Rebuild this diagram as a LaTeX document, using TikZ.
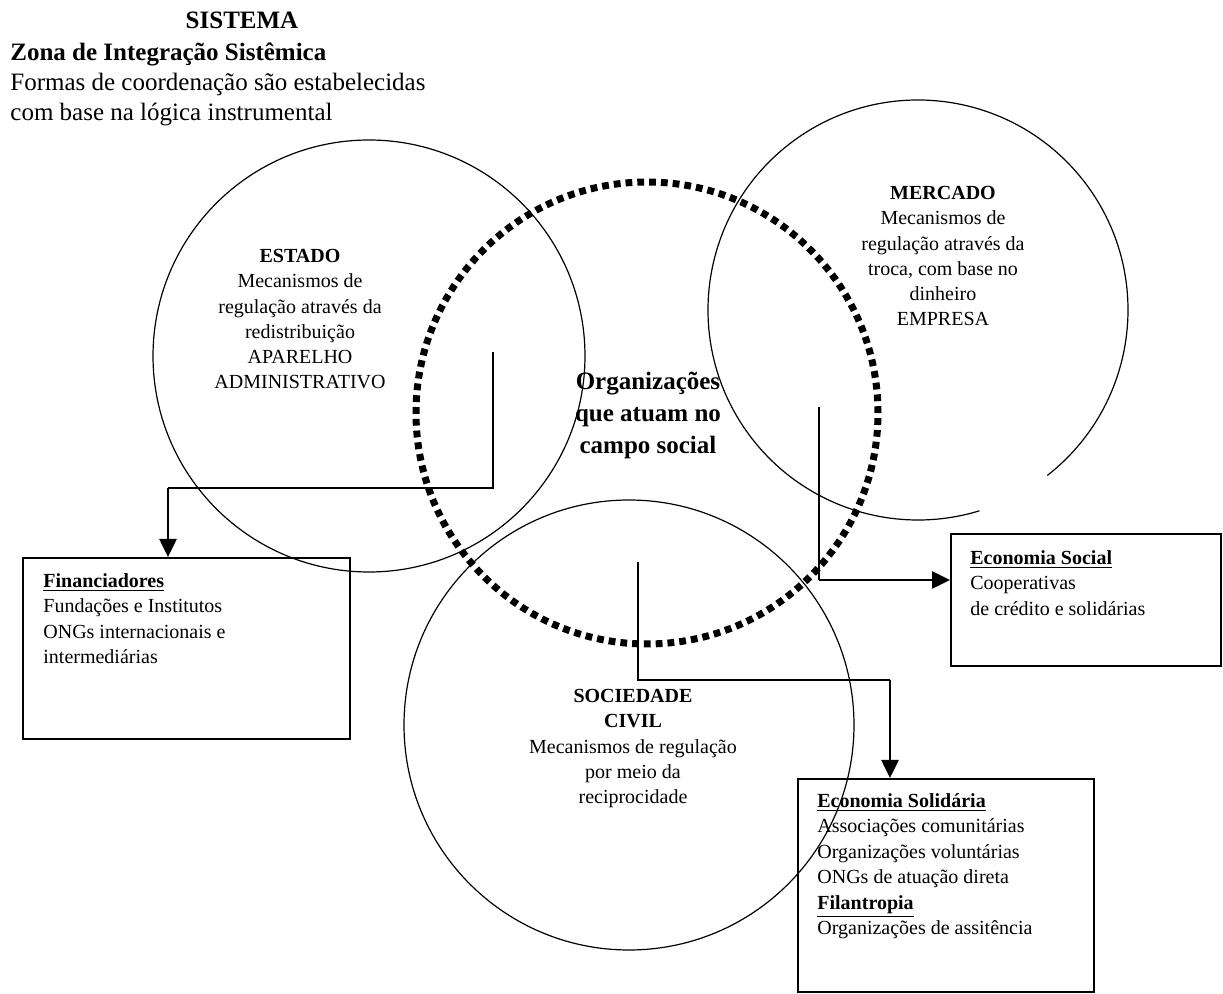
\documentclass[tikz,border=0pt]{standalone}
\usepackage{fontspec}
\setmainfont{Liberation Serif}
\usetikzlibrary{arrows.meta,positioning,calc}

\begin{document}
\begin{tikzpicture}[x=0.5pt, y=-0.5pt,
    ring/.style={circle, draw, line width=0.6pt, minimum size=#1, inner sep=0pt},
    box/.style={rectangle, draw, line width=0.8pt, anchor=north west, inner sep=0pt},
    circtext/.style={align=center, anchor=north, inner sep=0pt, font=\fontsize{10}{12.6}\selectfont},
    boxtext/.style={align=left, anchor=north west, inner sep=0pt, font=\fontsize{10}{12.75}\selectfont},
    link/.style={line width=0.6pt},
    flow/.style={line width=1.3pt, -{Triangle[length=9pt,width=8.5pt]}}]
        \useasboundingbox (0,0) rectangle (1223,994);

        % title of the system zone
        \node[anchor=north, inner sep=0pt, font=\bfseries\fontsize{12.5}{15}\selectfont] (sistema) at (242,12) {SISTEMA};
        \node[anchor=north west, inner sep=0pt, align=left, font=\fontsize{12.5}{15}\selectfont] (zona) at (10,42)
            {\textbf{Zona de Integração Sistêmica}\\Formas de coordenação são estabelecidas\\com base na lógica instrumental};

        % the three spheres and the social field
        \node[ring=216pt] (estado) at (369,356) {};
        \node[ring=225pt] (sociedade) at (629,725) {};
        \coordinate (mercado) at (918,310);
        \draw[link] (mercado) ++(-52:105pt) arc[start angle=-52, end angle=287, radius=105pt];
        \node[circle, draw, minimum size=231pt, inner sep=0pt, line width=3.5pt,
              dash pattern=on 3.4pt off 2.5pt] (campo) at (647,413) {};

        \node[circtext] (estadotxt) at (300,249) {\textbf{ESTADO}\\Mecanismos de\\regulação através da\\redistribuição\\APARELHO\\ADMINISTRATIVO};
        \node[circtext] (mercadotxt) at (943,186) {\textbf{MERCADO}\\Mecanismos de\\regulação através da\\troca, com base no\\dinheiro\\EMPRESA};
        \node[circtext] (sociedadetxt) at (633,689) {\textbf{SOCIEDADE}\\\textbf{CIVIL}\\Mecanismos de regulação\\por meio da\\reciprocidade};
        \node[circtext, font=\bfseries\fontsize{12.5}{16}\selectfont] (campotxt) at (648,372) {Organizações\\que atuam no\\campo social};

        % boxes
        \node[box, minimum width=163.5pt, minimum height=90.5pt] (finan) at (22,557) {};
        \node[boxtext] (finantxt) at (43,573) {\underline{\textbf{Financiadores}}\\Fundações e Institutos\\ONGs internacionais e\\intermediárias};
        \node[box, minimum width=135pt, minimum height=66pt] (ecosoc) at (950,533) {};
        \node[boxtext] (ecosoctxt) at (970,550) {\underline{\textbf{Economia Social}}\\Cooperativas\\de crédito e solidárias};
        \node[box, minimum width=148pt, minimum height=106.5pt] (ecosol) at (797,778) {};
        \node[boxtext] (ecosoltxt) at (817,793) {\underline{\textbf{Economia Solidária}}\\Associações comunitárias\\Organizações voluntárias\\ONGs de atuação direta\\\underline{\textbf{Filantropia}}\\Organizações de assitência};

        % connectors
        \coordinate (estSrc) at (493,352);
        \coordinate (estTurn) at (168,488);
        \draw[link] (estSrc) |- (estTurn);
        \draw[flow] (estTurn) -- (estTurn |- finan.north);

        \coordinate (merSrc) at (819,407);
        \coordinate (merTurn) at (819,580);
        \draw[link] (merSrc) -- (merTurn);
        \draw[flow] (merTurn) -- (merTurn -| ecosoc.west);

        \coordinate (socSrc) at (638,562);
        \coordinate (socTurn) at (890,680);
        \draw[link] (socSrc) |- (socTurn);
        \draw[flow] (socTurn) -- (socTurn |- ecosol.north);
\end{tikzpicture}
\end{document}
